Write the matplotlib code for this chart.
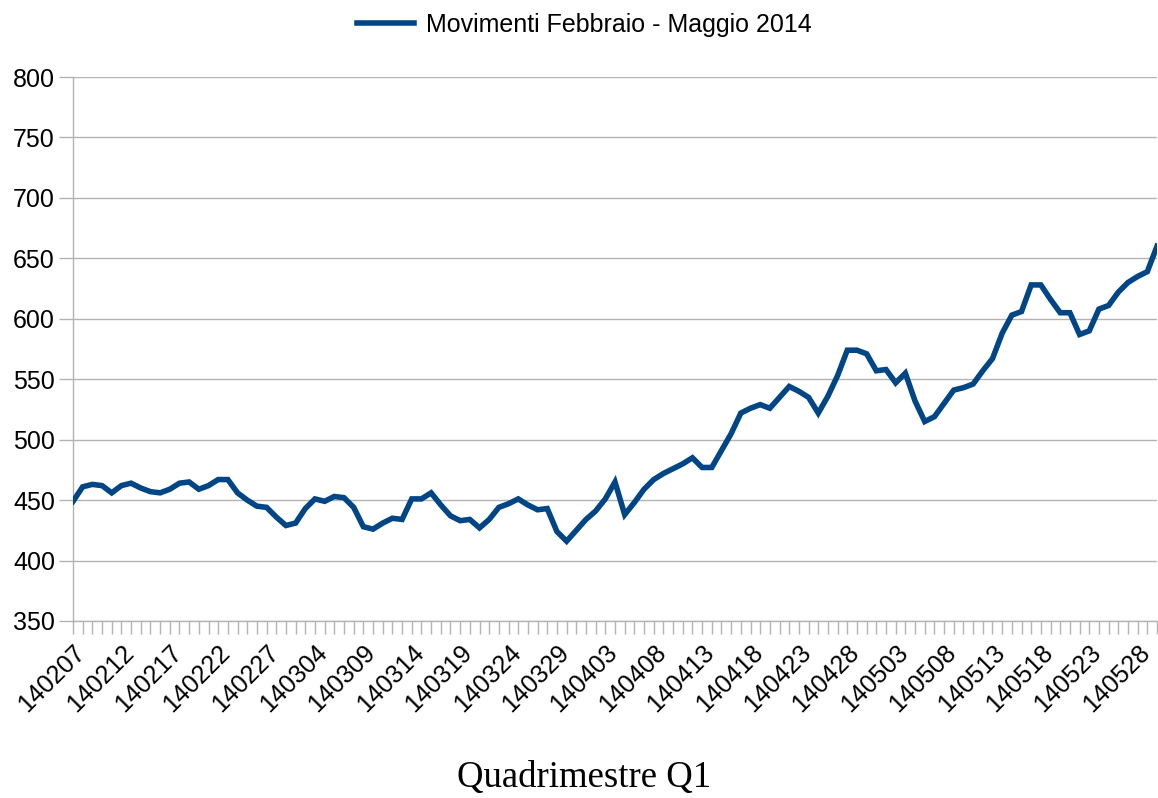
import matplotlib
matplotlib.use("Agg")
import matplotlib.pyplot as plt
from matplotlib.ticker import FixedLocator, NullFormatter
import pandas as pd

start_date = "2014-02-07"
values = [449, 461, 463, 462, 456, 462, 464, 460, 457, 456,
          459, 464, 465, 459, 462, 467, 467, 456, 450, 445,
          444, 436, 429, 431, 443, 451, 449, 453, 452, 444,
          428, 426, 431, 435, 434, 451, 451, 456, 446, 437,
          433, 434, 427, 434, 444, 447, 451, 446, 442, 443,
          424, 416, 425, 434, 441, 451, 465, 438, 448, 459,
          467, 472, 476, 480, 485, 477, 477, 491, 505, 522,
          526, 529, 526, 535, 544, 540, 535, 522, 536, 553,
          574, 574, 571, 557, 558, 547, 555, 532, 515, 519,
          530, 541, 543, 546, 557, 567, 588, 603, 606, 628,
          628, 616, 605, 605, 587, 590, 608, 611, 622, 630,
          635, 639, 660]
categories = [d.strftime("%y%m%d") for d in pd.date_range(start_date, periods=len(values))]
series_name = "Movimenti Febbraio - Maggio 2014"
x_title = "Quadrimestre Q1"
y_ticks = [350, 400, 450, 500, 550, 600, 650, 700, 750, 800]
label_step = 5

plt.rcParams['font.family'] = ['Liberation Sans', 'DejaVu Sans']

fig = plt.figure(figsize=(11.58, 7.98), dpi=100)
ax = fig.add_axes([73/1158, 1 - 621/798, (1157 - 73)/1158, (621 - 77)/798])

x = list(range(len(values)))
line, = ax.plot(x, values, color="#004586", linewidth=4.0, solid_joinstyle="miter",
                label=series_name, zorder=3)

ax.set_xlim(0, len(values) - 1)
ax.set_ylim(350, 800)
ax.set_yticks(y_ticks)
ax.yaxis.grid(True, color="#b3b3b3", linewidth=1.0)
ax.set_axisbelow(True)

major = x[::label_step]
ax.xaxis.set_major_locator(FixedLocator(major))
ax.xaxis.set_minor_locator(FixedLocator(x))
ax.set_xticklabels([categories[i] for i in major], rotation=45, ha="right",
                   va="top", rotation_mode="anchor", fontsize=18)
ax.xaxis.set_minor_formatter(NullFormatter())
ax.tick_params(axis="x", which="both", length=9, width=1.0, color="#b3b3b3",
               direction="out", pad=5)
ax.tick_params(axis="y", length=10, width=1.0, color="#b3b3b3", labelsize=18, pad=3)

for s in ["top", "right"]:
    ax.spines[s].set_visible(False)
for s in ["left", "bottom"]:
    ax.spines[s].set_color("#b3b3b3")
    ax.spines[s].set_linewidth(1.0)

fig.text(584/1158, 1 - 778/798, x_title, ha="center", va="center",
         fontsize=26.5, family=["Liberation Serif", "DejaVu Serif"])

fig.legend(handles=[line], loc="center", bbox_to_anchor=(584/1158, 1 - 25/798),
           frameon=False, fontsize=18, handlelength=2.3, handletextpad=0.45)

fig.savefig("out.png", dpi=100)
